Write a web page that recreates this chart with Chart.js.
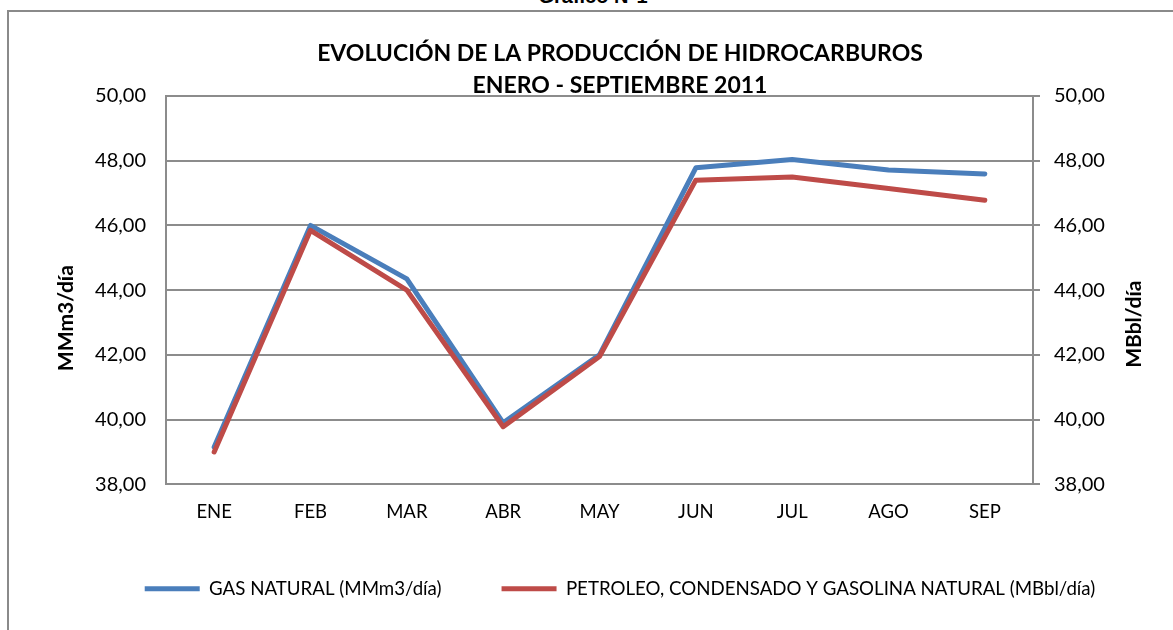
<!DOCTYPE html>
<html>
<head>
<meta charset="utf-8">
<script src="https://cdn.jsdelivr.net/npm/chart.js@4.4.0/dist/chart.umd.min.js"></script>
<style>
  html, body { margin: 0; padding: 0; width: 1173px; height: 630px; overflow: hidden; background: #fff; }
  #grafico { position: absolute; left: 0; width: 1186px; top: -14px; text-align: center;
    font: bold 20px "Liberation Sans", Arial, sans-serif; line-height: 20px; color: #000; }
  #box { position: absolute; left: 7px; top: 10px; width: 1222px; height: 650px;
    border: 2px solid #8a8a8a; background: #fff; }
  #wrap { position: absolute; left: 0; top: 0; width: 1222px; height: 596px; }
</style>
</head>
<body>
<div id="grafico">Gráfico N°1</div>
<div id="box"><div id="wrap"><canvas id="myChart"></canvas></div></div>
<script>
const meses = ["ENE", "FEB", "MAR", "ABR", "MAY", "JUN", "JUL", "AGO", "SEP"];
const gasNatural = [39.15, 46.00, 44.35, 39.90, 42.00, 47.78, 48.04, 47.71, 47.59];
const petroleo = [39.00, 45.85, 44.00, 39.78, 41.95, 47.40, 47.50, 47.14, 46.78];
const titulo = ["EVOLUCIÓN DE LA PRODUCCIÓN DE HIDROCARBUROS", "ENERO - SEPTIEMBRE 2011"];
const tituloIzq = "MMm3/día";
const tituloDer = "MBbl/día";

const fuente = "Lato, 'Open Sans', sans-serif";
const gris = "#8c8c8c";
const coma = v => v.toFixed(2).replace(".", ",");

// titulos de ejes girados de abajo hacia arriba (como en Excel)
const titulosEjes = {
  id: 'titulosEjes',
  afterDraw(chart) {
    const c = chart.ctx;
    const a = chart.chartArea;
    const poner = (txt, x, y) => {
      c.save();
      c.translate(x, y);
      c.rotate(-Math.PI / 2);
      c.font = "bold 21px " + fuente;
      c.fillStyle = '#000';
      c.textAlign = 'center';
      c.textBaseline = 'middle';
      c.fillText(txt, 0, 0);
      c.restore();
    };
    poner(tituloIzq, chart.scales.y.left + 57, (a.top + a.bottom) / 2 + 28);
    poner(tituloDer, chart.scales.y1.right - 97, (a.top + a.bottom) / 2 + 34);
  }
};

const ctx = document.getElementById('myChart').getContext('2d');
const myChart = new Chart(ctx, {
  type: 'line',
  plugins: [titulosEjes],
  data: {
    labels: meses,
    datasets: [{
      label: 'GAS NATURAL (MMm3/día)',
      data: gasNatural,
      yAxisID: 'y',
      borderColor: '#4a7ebb',
      backgroundColor: '#4a7ebb',
      borderWidth: 5,
      borderCapStyle: 'round',
      borderJoinStyle: 'round',
      pointRadius: 0,
      tension: 0,
      order: 1
    }, {
      label: 'PETROLEO, CONDENSADO Y GASOLINA NATURAL (MBbl/día)',
      data: petroleo,
      yAxisID: 'y1',
      borderColor: '#be4b48',
      backgroundColor: '#be4b48',
      borderWidth: 5,
      borderCapStyle: 'round',
      borderJoinStyle: 'round',
      pointRadius: 0,
      tension: 0,
      order: 0
    }]
  },
  options: {
    responsive: true,
    maintainAspectRatio: false,
    animation: false,
    layout: { padding: 0 },
    plugins: {
      tooltip: { enabled: false },
      title: {
        display: true,
        text: titulo,
        color: '#000',
        font: { family: fuente, size: 23, weight: 'bold', lineHeight: 1.4 },
        padding: { top: 25, bottom: -5.4 }
      },
      legend: {
        position: 'bottom',
        labels: {
          usePointStyle: true,
          pointStyleWidth: 55,
          pointStyle: 'line',
          boxHeight: 5,
          padding: 60,
          color: '#000',
          font: { family: fuente, size: 18.7 },
          sort: (a, b) => a.datasetIndex - b.datasetIndex
        }
      }
    },
    scales: {
      x: {
        offset: true,
        grid: { display: false, drawTicks: false },
        border: { color: gris, width: 2 },
        ticks: { color: '#000', padding: 17, font: { family: fuente, size: 18.5 } },
        afterFit: s => { s.height = 35; }
      },
      y: {
        position: 'left',
        min: 38, max: 50,
        grid: { color: gris, lineWidth: 2, drawTicks: false },
        border: { color: gris, width: 2 },
        ticks: { stepSize: 2, color: '#000', padding: 20, font: { family: fuente, size: 20 }, callback: v => coma(v) },
        afterFit: s => { s.width = 157; }
      },
      y1: {
        position: 'right',
        min: 38, max: 50,
        grid: { color: gris, lineWidth: 2, drawOnChartArea: false, drawTicks: true, tickLength: 7 },
        border: { color: gris, width: 2 },
        ticks: { stepSize: 2, color: '#000', padding: 14, font: { family: fuente, size: 20 }, callback: v => coma(v) },
        afterFit: s => { s.width = 198; }
      }
    }
  }
});
</script>
</body>
</html>
